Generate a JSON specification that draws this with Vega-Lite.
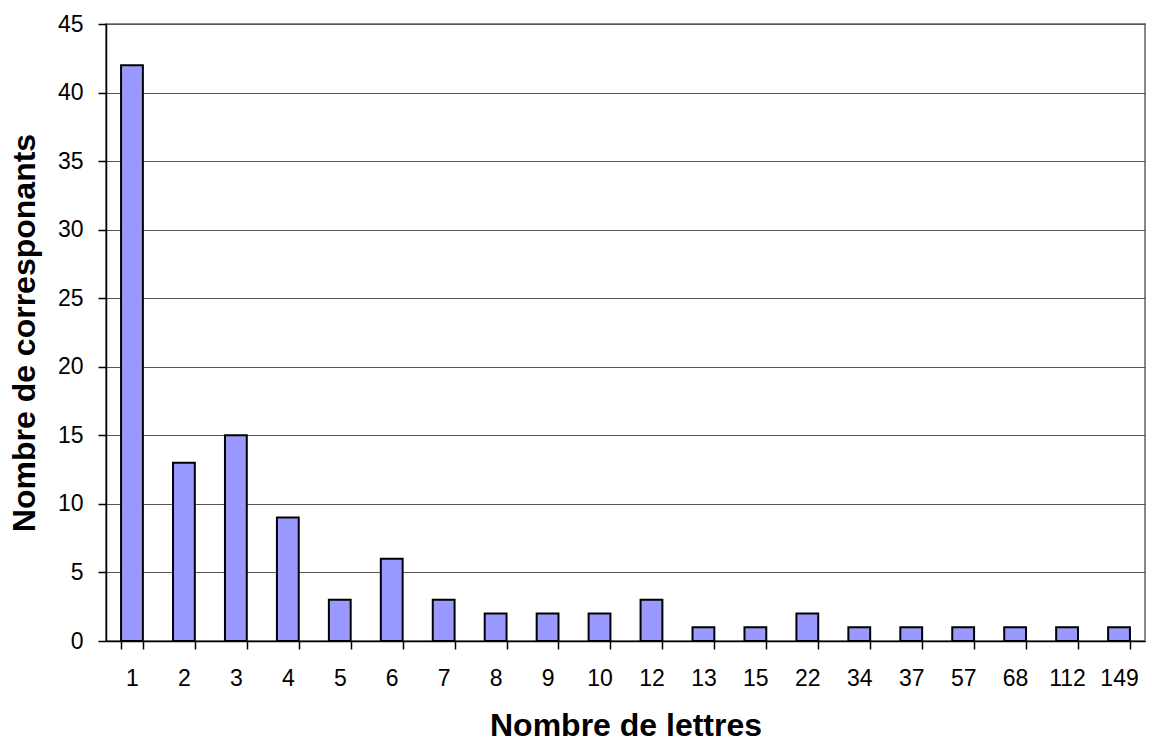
{
  "$schema": "https://vega.github.io/schema/vega-lite/v6.json",
  "autosize": "none",
  "width": 1039,
  "height": 617,
  "padding": {"left": 106, "top": 24, "right": 7, "bottom": 104},
  "background": "white",
  "data": {"values": [
    {"lettres": "1", "n": 42}, {"lettres": "2", "n": 13}, {"lettres": "3", "n": 15},
    {"lettres": "4", "n": 9}, {"lettres": "5", "n": 3}, {"lettres": "6", "n": 6},
    {"lettres": "7", "n": 3}, {"lettres": "8", "n": 2}, {"lettres": "9", "n": 2},
    {"lettres": "10", "n": 2}, {"lettres": "12", "n": 3}, {"lettres": "13", "n": 1},
    {"lettres": "15", "n": 1}, {"lettres": "22", "n": 2}, {"lettres": "34", "n": 1},
    {"lettres": "37", "n": 1}, {"lettres": "57", "n": 1}, {"lettres": "68", "n": 1},
    {"lettres": "112", "n": 1}, {"lettres": "149", "n": 1}
  ]},
  "mark": {"type": "bar", "fill": "#9999FF", "stroke": "black", "strokeWidth": 2},
  "encoding": {
    "x": {
      "field": "lettres", "type": "ordinal", "sort": null,
      "scale": {"paddingInner": 0.58, "paddingOuter": 0.29},
      "axis": {
        "title": "Nombre de lettres", "labelAngle": 0, "tickBand": "extent",
        "labelFontSize": 23, "labelFont": "Liberation Sans", "labelColor": "black",
        "labelPadding": 18,
        "titleFont": "Liberation Sans", "titleFontSize": 32, "titleFontWeight": "bold",
        "titleColor": "black", "titlePadding": 20,
        "domainColor": "black", "domainWidth": 1.5, "tickColor": "black", "tickSize": 8, "tickWidth": 1.5
      }
    },
    "y": {
      "field": "n", "type": "quantitative",
      "scale": {"domain": [0, 45], "nice": false},
      "axis": {
        "title": "Nombre de corresponants", "values": [0, 5, 10, 15, 20, 25, 30, 35, 40, 45],
        "labelFontSize": 23, "labelFont": "Liberation Sans", "labelColor": "black", "labelPadding": 15,
        "titleFont": "Liberation Sans", "titleFontSize": 32, "titleFontWeight": "bold",
        "titleColor": "black", "titlePadding": 16,
        "grid": true, "gridColor": "#555", "gridWidth": 1,
        "domainColor": "black", "domainWidth": 1.5, "tickColor": "black", "tickSize": 8, "tickWidth": 1.5
      }
    }
  },
  "config": {"view": {"stroke": "#888", "strokeWidth": 2}}
}
